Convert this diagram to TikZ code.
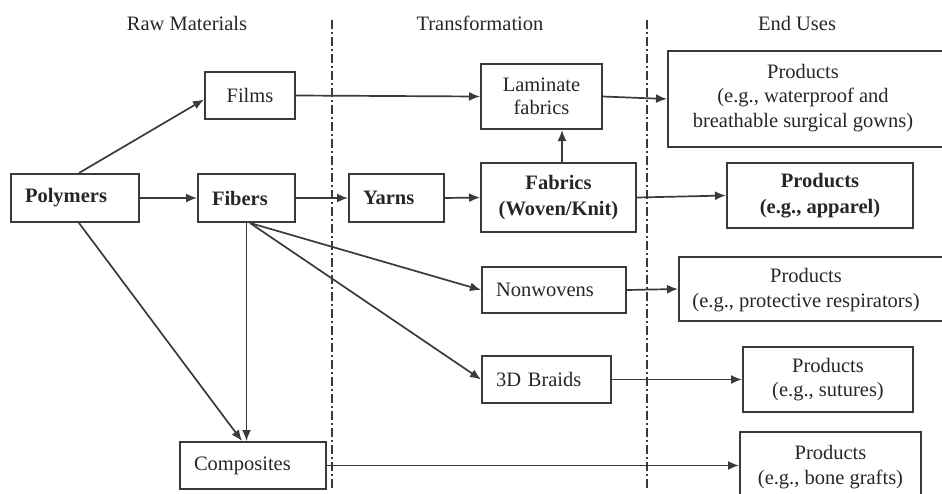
\documentclass[tikz,border=0pt]{standalone}
\usepackage{fontspec}
\setmainfont{Liberation Serif}
\usetikzlibrary{arrows.meta,calc}
\definecolor{ln}{HTML}{3A3A3A}
\definecolor{tx}{HTML}{262626}
\begin{document}
\begin{tikzpicture}[x=1pt,y=-1pt,
  every node/.style={font=\fontsize{20.5}{24.5}\selectfont, text=tx},
  box/.style={draw=ln, line width=2pt, inner sep=0pt},
  lbox/.style={box, align=left, inner xsep=14pt, inner ysep=0pt},
  cbox/.style={box, align=center},
  bld/.style={font=\fontsize{20.5}{26}\selectfont\bfseries},
  arr/.style={draw=ln, line width=1.7pt, -{Latex[length=11pt,width=9pt]}},
  sepline/.style={draw=ln, line width=1.5pt, dash pattern=on 9pt off 3pt on 2pt off 3pt}]
\useasboundingbox (0,0) rectangle (942,493);
\clip (0,0) rectangle (942,493);

% headings
\node (h1) at (187,23) {Raw Materials};
\node (h2) at (480,23) {Transformation};
\node (h3) at (797,23) {End Uses};

% separators
\coordinate (s1t) at (332,20);
\coordinate (s1b) at (332,488);
\coordinate (s2t) at (647,20);
\coordinate (s2b) at (647,488);
\draw[sepline] (s1t) -- (s1b);
\draw[sepline] (s2t) -- (s2b);

% raw materials
\node[lbox, bld, text width=100pt, minimum height=48pt] (poly) at (75,198) {Polymers};
\node[cbox, minimum width=90pt, minimum height=47pt] (films) at (250,95.5) {Films};
\node[lbox, bld, text width=69pt, minimum height=48pt] (fibers) at (246.5,198) {Fibers};
\node[lbox, text width=118pt, minimum height=47pt] (comp) at (253,465.5) {Composites};

% transformation
\node[lbox, bld, text width=67pt, minimum height=48pt] (yarns) at (396.5,198) {Yarns};
\node[cbox, minimum width=121pt, minimum height=65pt, font=\fontsize{20.5}{23}\selectfont] (lam) at (541.5,96.5) {Laminate\\fabrics};
\node[cbox, bld, minimum width=155pt, minimum height=69pt] (fab) at (558.5,197.5) {Fabrics\\(Woven/Knit)};
\node[lbox, text width=116pt, minimum height=46pt] (nonw) at (554,290) {Nonwovens};
\node[lbox, text width=101pt, minimum height=47pt] (braid) at (546.5,379.5) {3D Braids};

% end uses
\node[box, minimum width=277pt, minimum height=96pt] (p1) at (806.5,99) {};
\node[align=center] (p1t) at (803,98) {Products\\(e.g., waterproof and\\breathable surgical gowns)};
\node[cbox, bld, minimum width=186pt, minimum height=65pt] (app) at (820,195.5) {Products\\(e.g., apparel)};
\node[box, minimum width=269pt, minimum height=64pt] (p3) at (813.5,289) {};
\node[align=center] (p3t) at (806,290) {Products\\(e.g., protective respirators)};
\node[cbox, minimum width=170pt, minimum height=65pt] (sut) at (828,379.5) {Products\\(e.g., sutures)};
\node[cbox, minimum width=181pt, minimum height=70pt] (bone) at (830.5,467) {Products\\(e.g., bone grafts)};

% connectors
\draw[arr] ($(poly.north west)+(69,0)$) -- ($(films.west)+(0,4)$);
\draw[arr] (poly.east) -- (fibers.west);
\draw[arr] ($(poly.south west)+(69,0)$) -- ($(comp.north west)+(63,0)$);
\draw[arr] (fibers.south) -- (fibers.south |- comp.north);
\coordinate (fo) at ($(fibers.south)+(3.5,0)$);
\draw[arr] (fo) -- (nonw.west);
\draw[arr] (fo) -- (braid.west);
\draw[arr] (fibers.east) -- (yarns.west);
\draw[arr] (yarns.east) -- (fab.west);
\draw[arr] (films.east) -- (lam.west);
\draw[arr] ($(fab.north)+(3.5,0)$) -- ($(lam.south)+(20.5,0)$);
\draw[arr] (lam.east) -- (p1.west);
\draw[arr] (fab.east) -- (app.west);
\draw[arr] (nonw.east) -- (p3.west);
\draw[arr] (braid.east) -- (sut.west);
\draw[arr] (comp.east) -- (comp.east -| bone.west);
\end{tikzpicture}
\end{document}
